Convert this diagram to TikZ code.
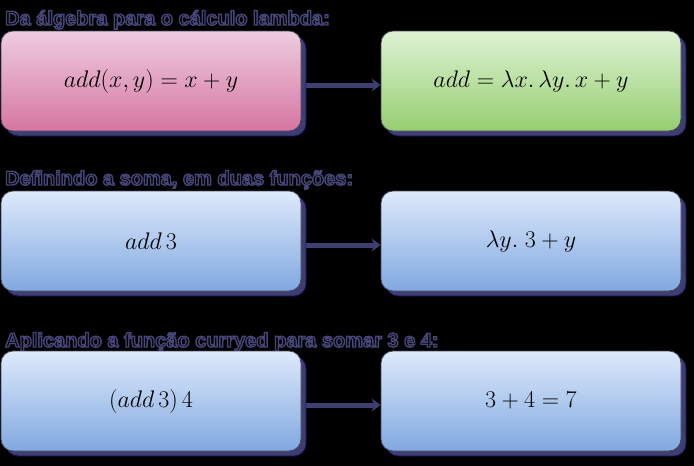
\RequirePackage{fix-cm}
\documentclass[tikz,border=0pt]{standalone}
\usepackage{fontspec}
\setsansfont{Liberation Sans}
\usetikzlibrary{shadows,arrows.meta}

\definecolor{shadowfill}{RGB}{62,62,112}
\definecolor{shadowline}{RGB}{18,18,92}
\definecolor{boxline}{RGB}{70,70,90}
\definecolor{pinktop}{RGB}{238,204,224}
\definecolor{pinkbot}{RGB}{214,118,160}
\definecolor{greentop}{RGB}{222,242,212}
\definecolor{greenbot}{RGB}{150,206,112}
\definecolor{bluetop}{RGB}{222,234,252}
\definecolor{bluebot}{RGB}{128,168,224}

% outlined heading text (fill black, stroke blue-grey)
\newcommand{\outlined}[1]{\special{pdf:literal 2 Tr 1.4 w 0.27 0.27 0.47 RG}#1\special{pdf:literal 0 Tr}}

\tikzset{
  box/.style={rectangle, rounded corners=12pt, minimum width=300pt,
    minimum height=100pt, inner sep=0pt, draw=boxline, line width=0.8pt,
    font=\fontsize{24}{28}\selectfont,
    drop shadow={shadow xshift=5pt, shadow yshift=-5pt, fill=shadowfill,
      draw=shadowline, opacity=1}},
  pinkbox/.style={box, top color=pinktop, bottom color=pinkbot},
  greenbox/.style={box, top color=greentop, bottom color=greenbot},
  bluebox/.style={box, top color=bluetop, bottom color=bluebot},
  title/.style={anchor=base west, inner sep=0pt, text=black,
    font=\sffamily\bfseries\fontsize{20}{24}\selectfont},
  link/.style={-{Stealth[length=9pt,width=13pt]}, line width=5pt, shadowfill}
}

\begin{document}
\begin{tikzpicture}[x=1pt, y=-1pt]
    \fill[black] (0,0) rectangle (694,466);
    \useasboundingbox (0,0) rectangle (694,466);

    % first row
    \node[title] (h1) at (5,25) {\outlined{Da álgebra para o cálculo lambda:}};
    \node[pinkbox]  (a1) at (151,81) {$add(x,y) = x + y$};
    \node[greenbox] (b1) at (531,81) {$add = \lambda x.\, \lambda y.\, x + y$};
    \draw[link] ([xshift=5pt,yshift=-4pt]a1.east) -- ([yshift=-4pt]b1.west);

    % second row
    \node[title] (h2) at (5,185) {\outlined{Definindo a soma, em duas funções:}};
    \node[bluebox] (a2) at (151,241) {$add\,3$};
    \node[bluebox] (b2) at (531,241) {$\lambda y.\; 3 + y$};
    \draw[link] ([xshift=5pt,yshift=-4pt]a2.east) -- ([yshift=-4pt]b2.west);

    % third row
    \node[title] (h3) at (5,347) {\outlined{Aplicando a função curryed para somar 3 e 4:}};
    \node[bluebox] (a3) at (151,401) {$(add\,3)\,4$};
    \node[bluebox] (b3) at (531,401) {$3 + 4 = 7$};
    \draw[link] ([xshift=5pt,yshift=-4pt]a3.east) -- ([yshift=-4pt]b3.west);
\end{tikzpicture}
\end{document}
